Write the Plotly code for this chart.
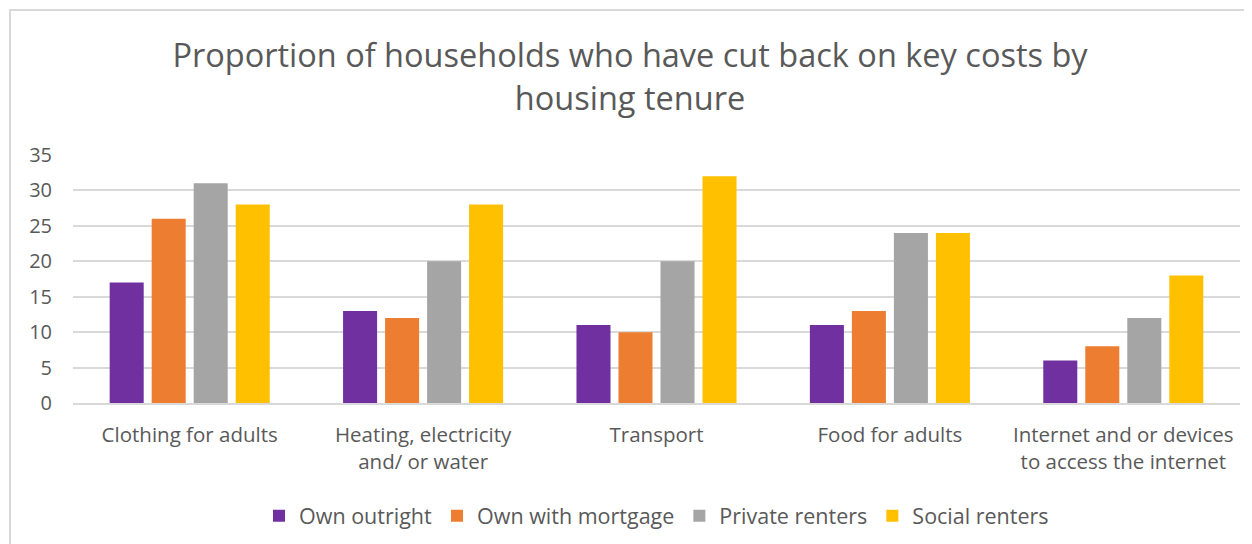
import plotly.graph_objects as go

categories = [
    "Clothing for adults",
    "Heating, electricity<br>and/ or water",
    "Transport",
    "Food for adults",
    "Internet and or devices<br>to access the internet",
]
own_outright = [17, 13, 11, 11, 6]
own_mortgage = [26, 12, 10, 13, 8]
private_renters = [31, 20, 20, 24, 12]
social_renters = [28, 28, 32, 24, 18]

series = [
    ("Own outright", own_outright, "#7030A0"),
    ("Own with mortgage", own_mortgage, "#ED7D31"),
    ("Private renters", private_renters, "#A5A5A5"),
    ("Social renters", social_renters, "#FFC000"),
]

FONT = "Open Sans"
TEXT = "#595959"

fig = go.Figure()
for name, vals, colour in series:
    fig.add_trace(go.Bar(x=categories, y=vals, name=name, marker_color=colour,
                         marker_line_width=0))

# chart border (cropped on the right and bottom like the original)
fig.add_shape(type="rect", xref="paper", yref="paper",
              x0=-0.054, x1=1.2, y0=-1.0, y1=1.585,
              line=dict(color="#D9D9D9", width=2), fillcolor="rgba(0,0,0,0)",
              layer="below")

fig.update_layout(
    title=dict(
        text="Proportion of households who have cut back on key costs by<br>housing tenure",
        x=0.5, xanchor="center", y=0.889, yanchor="middle",
        font=dict(family=FONT, size=32.5, color=TEXT),
    ),
    width=1244, height=536,
    margin=dict(l=65, r=12, t=147, b=141, autoexpand=False),
    paper_bgcolor="white", plot_bgcolor="white",
    barmode="group", bargap=0.28, bargroupgap=0.19,
    font=dict(family=FONT, size=20, color=TEXT),
    showlegend=True,
    legend=dict(orientation="h", x=0.5, xanchor="center", y=-0.455, yanchor="middle",
                font=dict(family=FONT, size=21.5, color=TEXT), traceorder="normal"),
    xaxis=dict(showline=True, linecolor="#D9D9D9", linewidth=1.5, ticks="",
               ticklabelstandoff=13, automargin=False,
               tickfont=dict(family=FONT, size=20.5, color=TEXT)),
    yaxis=dict(range=[0, 35], dtick=5, showgrid=True, gridcolor="#D9D9D9",
               gridwidth=1.5, zeroline=False, showline=False, automargin=False,
               ticklabelstandoff=20,
               tickfont=dict(family=FONT, size=20, color=TEXT), ticklen=0),
)

fig.write_html("out.html")
